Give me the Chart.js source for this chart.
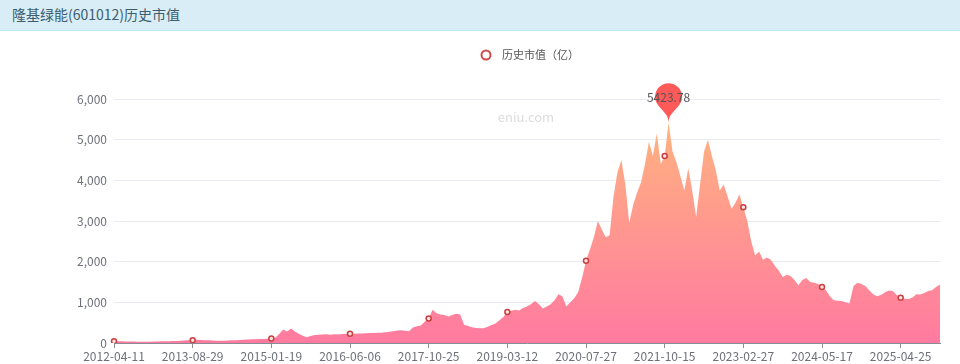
<!DOCTYPE html>
<html><head><meta charset="utf-8">
<script src="https://cdn.jsdelivr.net/npm/chart.js@4/dist/chart.umd.min.js"></script>
<style>
html,body{margin:0;padding:0;background:#fff;}
#wrap{position:relative;width:960px;height:364px;overflow:hidden;}
#bar{position:absolute;left:0;top:0;width:960px;height:31px;background:#d9edf7;border-bottom:1px solid #bce8f1;box-sizing:border-box;}
#bar span{position:absolute;left:12px;top:4px;font:14px "Noto Sans CJK SC",sans-serif;color:#3b5d6e;line-height:20px;}
canvas{position:absolute;left:0;top:0;}
</style></head>
<body><div id="wrap"><canvas id="c" width="960" height="364"></canvas><div id="bar"><span>隆基绿能(601012)历史市值</span></div></div>
<script>
const seriesName = '历史市值（亿）';
const tickDates = ['2012-04-11','2013-08-29','2015-01-19','2016-06-06','2017-10-25','2019-03-12','2020-07-27','2021-10-15','2023-02-27','2024-05-17','2025-04-25'];
const marketCap = [
  45, 42, 40, 38, 36, 34, 32, 30, 30, 32, 35, 38, 40, 42, 45, 48, 52, 56, 60, 65, 70,
  80, 75, 70, 65, 60, 55, 55, 58, 60, 65, 70, 75, 80, 85, 90, 95, 100, 100, 105, 110,
  130, 220, 330, 280, 355, 280, 230, 180, 140, 170, 195, 200, 210, 215, 205, 215, 210, 220, 225, 225,
  230, 235, 235, 240, 245, 248, 250, 255, 265, 275, 290, 305, 315, 300, 290, 380, 410, 430, 520, 600,
  820, 730, 700, 690, 650, 690, 720, 700, 450, 420, 390, 370, 360, 365, 400, 440, 480, 560, 640, 760,
  790, 820, 800, 860, 900, 950, 1030, 960, 850, 900, 950, 1050, 1200, 1150, 900, 1000, 1100, 1250, 1600, 2020,
  2300, 2600, 3000, 2800, 2600, 2650, 3600, 4200, 4500, 3900, 2950, 3400, 3700, 3950, 4400, 4950, 4600, 5150, 4400, 4600,
  5423.78, 4700, 4450, 4100, 3750, 4300, 3750, 3100, 3900, 4700, 5000, 4600, 4250, 3750, 3900, 3600, 3300, 3450, 3650, 3340,
  3000, 2500, 2150, 2250, 2050, 2100, 2050, 1900, 1780, 1620, 1680, 1650, 1550, 1420, 1550, 1600, 1500, 1480, 1450, 1380,
  1300, 1150, 1050, 1040, 1030, 1000, 970, 1400, 1480, 1450, 1400, 1300, 1200, 1150, 1180, 1250, 1290, 1280, 1180, 1110,
  1090, 1080, 1120, 1200, 1190, 1230, 1280, 1300, 1380, 1440
];
const yTicks = [0, 1000, 2000, 3000, 4000, 5000, 6000];
const STEP = 20;
const categories = marketCap.map((v, i) => (i % STEP === 0 ? tickDates[i / STEP] : ''));
const FONT = '"Noto Sans CJK SC", "Noto Sans", sans-serif';
const maxVal = Math.max(...marketCap);
const maxIdx = marketCap.indexOf(maxVal);

const extras = {
  id: 'extras',
  beforeDatasetsDraw(chart) {
    const ctx = chart.ctx;
    ctx.save();
    ctx.fillStyle = '#dcdcdc';
    ctx.font = '13px ' + FONT;
    ctx.textAlign = 'center';
    ctx.textBaseline = 'middle';
    ctx.fillText('eniu.com', 526, 117);
    ctx.restore();
  },
  afterDatasetsDraw(chart) {
    const ctx = chart.ctx;
    const x = chart.scales.x.getPixelForValue(maxIdx);
    const y = chart.scales.y.getPixelForValue(maxVal);
    const size = 45;
    const w = size / 5 * 3, h = Math.max(w, size), r = w / 2;
    const dy = r * r / (h - r), cy = y - h + r + dy;
    const angle = Math.asin(dy / r), dx = Math.cos(angle) * r;
    const tanX = Math.sin(angle), tanY = Math.cos(angle);
    const cpLen = r * 0.6, cpLen2 = r * 0.7;
    ctx.save();
    ctx.fillStyle = '#ff5a5a';
    ctx.beginPath();
    ctx.moveTo(x - dx, cy + dy);
    ctx.arc(x, cy, r, Math.PI - angle, Math.PI * 2 + angle);
    ctx.bezierCurveTo(x + dx - tanX * cpLen, cy + dy + tanY * cpLen, x, y - cpLen2, x, y);
    ctx.bezierCurveTo(x, y - cpLen2, x - dx + tanX * cpLen, cy + dy + tanY * cpLen, x - dx, cy + dy);
    ctx.closePath();
    ctx.fill();
    ctx.fillStyle = '#555';
    ctx.font = '12px ' + FONT;
    ctx.textAlign = 'center';
    ctx.textBaseline = 'middle';
    ctx.fillText(maxVal.toFixed(2), x, y - 25);
    ctx.restore();
  },
  afterDraw(chart) {
    const ctx = chart.ctx;
    ctx.save();
    ctx.beginPath();
    ctx.arc(486, 55, 4.5, 0, Math.PI * 2);
    ctx.fillStyle = '#fff';
    ctx.fill();
    ctx.lineWidth = 2;
    ctx.strokeStyle = '#d14a4a';
    ctx.stroke();
    ctx.fillStyle = '#555';
    ctx.font = '11px ' + FONT;
    ctx.textAlign = 'left';
    ctx.textBaseline = 'middle';
    ctx.fillText(seriesName, 502, 55);
    ctx.restore();
  }
};

new Chart(document.getElementById('c'), {
  type: 'line',
  data: {
    labels: categories,
    datasets: [{
      label: seriesName,
      data: marketCap,
      fill: 'origin',
      tension: 0,
      borderWidth: 0,
      borderColor: 'rgba(0,0,0,0)',
      backgroundColor: (c) => {
        const chart = c.chart;
        const ca = chart.chartArea;
        if (!ca) return 'rgb(255,130,160)';
        const top = chart.scales.y.getPixelForValue(maxVal);
        const g = chart.ctx.createLinearGradient(0, top, 0, ca.bottom);
        g.addColorStop(0, 'rgb(255,178,128)');
        g.addColorStop(1, 'rgb(255,122,160)');
        return g;
      },
      pointRadius: (c) => (c.dataIndex % STEP === 0 ? 2.5 : 0),
      pointHoverRadius: 0,
      pointBorderWidth: 1.5,
      pointBorderColor: '#c9403f',
      pointBackgroundColor: '#fde3e3'
    }]
  },
  options: {
    responsive: false,
    animation: false,
    layout: { padding: { left: 0, right: 20, top: 99, bottom: 0 } },
    plugins: { legend: { display: false }, tooltip: { enabled: false } },
    scales: {
      x: {
        type: 'category',
        offset: false,
        grid: { drawOnChartArea: false, drawTicks: true, tickLength: 5, color: '#8a8c93' },
        border: { display: true, color: '#8a8c93' },
        ticks: {
          autoSkip: false, maxRotation: 0, minRotation: 0, padding: 1,
          color: '#6e7079', font: { size: 12, family: FONT },
          callback(v) { return this.getLabelForValue(v); }
        },
        afterBuildTicks: (s) => { s.ticks = s.ticks.filter(t => t.value % STEP === 0); },
        afterFit: (s) => { s.height = 21; }
      },
      y: {
        min: yTicks[0], max: yTicks[yTicks.length - 1],
        afterBuildTicks: (s) => { s.ticks = yTicks.map(v => ({ value: v })); },
        grid: { color: '#e8ebf2', drawTicks: false },
        border: { display: false },
        ticks: {
          padding: 7, color: '#6e7079', font: { size: 12, family: FONT },
          callback: (v) => v.toLocaleString('en-US')
        },
        afterFit: (s) => { s.width = 114; }
      }
    }
  },
  plugins: [extras]
});
</script>
</body></html>
